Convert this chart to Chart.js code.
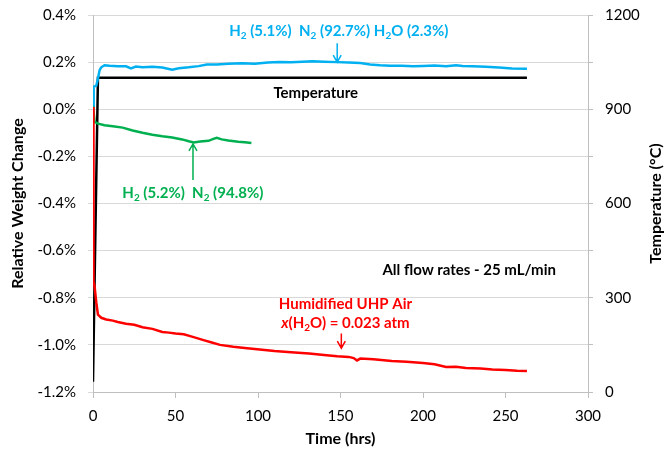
<!DOCTYPE html>
<html>
<head>
<meta charset="utf-8">
<script src="https://cdn.jsdelivr.net/npm/chart.js@4.4.1/dist/chart.umd.min.js"></script>
<style>
  body { margin: 0; background: #fff; }
  #wrap { width: 666px; height: 456px; }
</style>
</head>
<body>
<div id="wrap"><canvas id="chart" width="666" height="456"></canvas></div>
<script>
// Data
const humidH2Time = [0, 0.4, 2, 3, 4, 5, 7, 10, 15, 20, 23, 26, 30, 36, 42, 48, 52, 58, 64, 69,
  75, 82, 90, 98, 106, 113, 120, 127, 133, 140, 148, 155, 162, 168, 174, 180, 187, 194, 200, 207,
  214, 220, 224, 230, 238, 246, 254, 263];
const humidH2Change = [0.01, 0.095, 0.1, 0.13, 0.166, 0.178, 0.187, 0.185, 0.183, 0.182, 0.173, 0.181, 0.178, 0.18, 0.177, 0.168, 0.174, 0.178, 0.183, 0.19,
  0.19, 0.193, 0.195, 0.193, 0.198, 0.2, 0.199, 0.202, 0.204, 0.202, 0.2, 0.198, 0.196, 0.19, 0.187, 0.185, 0.185, 0.183, 0.184, 0.186,
  0.183, 0.187, 0.184, 0.182, 0.18, 0.177, 0.173, 0.172];

const dryH2Time = [0, 1, 3, 7, 12, 18, 24, 30, 36, 42, 48, 54, 58, 61, 65, 70, 73, 75, 78, 82, 88, 92, 96];
const dryH2Change = [0.013, -0.054, -0.061, -0.068, -0.072, -0.078, -0.09, -0.1, -0.108, -0.115, -0.12, -0.128,
  -0.136, -0.141, -0.137, -0.134, -0.126, -0.121, -0.128, -0.133, -0.138, -0.14, -0.143];

const airTime = [0, 0.3, 1, 2, 3, 5, 8, 12, 15, 20, 25, 30, 36, 42, 46, 50, 55, 60, 67, 72,
  77, 85, 92, 101, 110, 120, 131, 140, 148, 155, 158, 160, 162, 170, 181, 190, 200, 207, 214, 220,
  226, 235, 242, 250, 257, 263];
const airChange = [0.01, -0.73, -0.755, -0.82, -0.872, -0.885, -0.892, -0.897, -0.903, -0.91, -0.915, -0.925, -0.932, -0.945, -0.948, -0.952, -0.955, -0.965, -0.98, -0.99,
  -1.0, -1.008, -1.013, -1.02, -1.026, -1.031, -1.037, -1.043, -1.048, -1.051, -1.056, -1.066, -1.058, -1.061, -1.068, -1.072, -1.077, -1.082, -1.094, -1.093,
  -1.098, -1.1, -1.105, -1.107, -1.11, -1.111];

const tempTime = [0, 1.5, 3, 263];
const tempValue = [33, 525, 1000, 1000];

const xTicks = [0, 50, 100, 150, 200, 250, 300];
const yTicks = [-1.2, -1.0, -0.8, -0.6, -0.4, -0.2, 0.0, 0.2, 0.4];
const tempTicks = [0, 300, 600, 900, 1200];

const FONT = 'Lato, "Open Sans", sans-serif';
const BLUE = '#00B0F0', GREEN = '#00B050', RED = '#FF0000';

const toPoints = (xs, ys) => xs.map((x, i) => ({ x: x, y: ys[i] }));

// annotation texts, placed in data units (time, % change)
const notes = [
  { parts: [['H', ''], ['2', 's'], [' (5.1%)  N', ''], ['2', 's'], [' (92.7%) H', ''], ['2', 's'], ['O (2.3%)', '']], t: 149, v: 0.331, color: BLUE },
  { parts: [['Temperature', '']], t: 135, v: 0.068, color: '#000' },
  { parts: [['H', ''], ['2', 's'], [' (5.2%)  N', ''], ['2', 's'], [' (94.8%)', '']], t: 60.5, v: -0.357, color: GREEN },
  { parts: [['All flow rates - 25 mL/min', '']], t: 228, v: -0.683, color: '#000' },
  { parts: [['Humidified UHP Air', '']], t: 153, v: -0.828, color: RED },
  { parts: [['x', 'i'], ['(H', ''], ['2', 's'], ['O) = 0.023 atm', '']], t: 153, v: -0.908, color: RED }
];
const arrows = [
  { t: 148, from: 0.28, to: 0.2, color: BLUE },
  { t: 60.6, from: -0.30, to: -0.147, color: GREEN },
  { t: 150.5, from: -0.952, to: -1.014, color: RED }
];

const fontFor = (kind, size) => {
  if (kind === 's') return 'bold ' + Math.round(size * 0.65) + 'px ' + FONT;
  if (kind === 'i') return 'italic bold ' + size + 'px ' + FONT;
  return 'bold ' + size + 'px ' + FONT;
};

const drawRich = (ctx, parts, cx, cy, color, size) => {
  let total = 0;
  parts.forEach(p => { ctx.font = fontFor(p[1], size); total += ctx.measureText(p[0]).width; });
  let x = cx - total / 2;
  ctx.fillStyle = color;
  ctx.textBaseline = 'middle';
  ctx.textAlign = 'left';
  parts.forEach(p => {
    ctx.font = fontFor(p[1], size);
    const dy = p[1] === 's' ? size * 0.28 : 0;
    ctx.fillText(p[0], x, cy + dy);
    x += ctx.measureText(p[0]).width;
  });
};

const notesPlugin = {
  id: 'notes',
  afterDatasetsDraw(chart) {
    const ctx = chart.ctx;
    const xs = chart.scales.x, ys = chart.scales.y, area = chart.chartArea;
    ctx.save();
    notes.forEach(n => drawRich(ctx, n.parts, xs.getPixelForValue(n.t), ys.getPixelForValue(n.v), n.color, 15));
    arrows.forEach(a => {
      const x = xs.getPixelForValue(a.t);
      const y0 = ys.getPixelForValue(a.from), y1 = ys.getPixelForValue(a.to);
      const dir = y1 > y0 ? 1 : -1;
      ctx.strokeStyle = a.color;
      ctx.lineWidth = 1.5;
      ctx.beginPath();
      ctx.moveTo(x, y0);
      ctx.lineTo(x, y1);
      ctx.moveTo(x - 4, y1 - dir * 7);
      ctx.lineTo(x, y1);
      ctx.lineTo(x + 4, y1 - dir * 7);
      ctx.stroke();
    });
    // right axis title reads bottom-to-top like the left one
    ctx.translate(chart.width - 10, (area.top + area.bottom) / 2);
    ctx.rotate(-Math.PI / 2);
    ctx.font = 'bold 16px ' + FONT;
    ctx.fillStyle = '#000';
    ctx.textAlign = 'center';
    ctx.textBaseline = 'middle';
    ctx.fillText('Temperature (°C)', 0, 0);
    ctx.restore();
  }
};

const line = (data, color, axis) => ({
  data: data,
  borderColor: color,
  backgroundColor: color,
  borderWidth: 2.5,
  pointRadius: 0,
  tension: 0,
  yAxisID: axis
});

// pin the plot box to the reference: 93..588 wide, 15..392 tall
const fixVertical = w => s => { s.width = w; s.paddingTop = 0; s.paddingBottom = 0; };

new Chart(document.getElementById('chart').getContext('2d'), {
  type: 'line',
  data: {
    datasets: [
      line(toPoints(airTime, airChange), RED, 'y'),
      line(toPoints(dryH2Time, dryH2Change), GREEN, 'y'),
      line(toPoints(humidH2Time, humidH2Change), BLUE, 'y'),
      line(toPoints(tempTime, tempValue), '#000', 'y1')
    ]
  },
  options: {
    responsive: false,
    animation: false,
    layout: { padding: { top: 15, left: 0, right: 0, bottom: 0 } },
    plugins: { legend: { display: false }, tooltip: { enabled: false } },
    scales: {
      x: {
        type: 'linear',
        min: xTicks[0],
        max: xTicks[xTicks.length - 1],
        afterBuildTicks: s => { s.ticks = xTicks.map(v => ({ value: v })); },
        afterFit: s => { s.height = 64; s.paddingLeft = 0; s.paddingRight = 0; },
        grid: { drawOnChartArea: false, tickLength: 6, color: '#bfbfbf' },
        border: { display: true, color: '#bfbfbf' },
        ticks: { color: '#000', font: { family: FONT, size: 15 }, padding: 9, maxRotation: 0 },
        title: { display: true, text: 'Time (hrs)', color: '#000', font: { family: FONT, size: 16, weight: 'bold' }, padding: { top: 0, bottom: 8 } }
      },
      y: {
        position: 'left',
        min: yTicks[0],
        max: yTicks[yTicks.length - 1],
        afterBuildTicks: s => { s.ticks = yTicks.map(v => ({ value: v })); },
        afterFit: fixVertical(93),
        grid: { color: '#d9d9d9', tickLength: 5 },
        border: { display: true, color: '#bfbfbf' },
        ticks: {
          color: '#000', font: { family: FONT, size: 15 }, padding: 12,
          callback: v => (Math.abs(v) < 1e-9 ? 0 : v).toFixed(1) + '%'
        },
        title: { display: true, text: 'Relative Weight Change', color: '#000', font: { family: FONT, size: 16, weight: 'bold' }, padding: { top: 8, bottom: 2 } }
      },
      y1: {
        position: 'right',
        min: 0,
        max: 1200,
        afterBuildTicks: s => { s.ticks = [0, 150, 300, 450, 600, 750, 900, 1050, 1200].map(v => ({ value: v })); },
        afterFit: fixVertical(78),
        grid: { drawOnChartArea: false, tickLength: 5, color: '#bfbfbf' },
        border: { display: true, color: '#bfbfbf' },
        ticks: {
          color: '#000', font: { family: FONT, size: 15 }, padding: 12,
          callback: v => (tempTicks.includes(v) ? String(v) : '')
        }
      }
    }
  },
  plugins: [notesPlugin]
});
</script>
</body>
</html>
